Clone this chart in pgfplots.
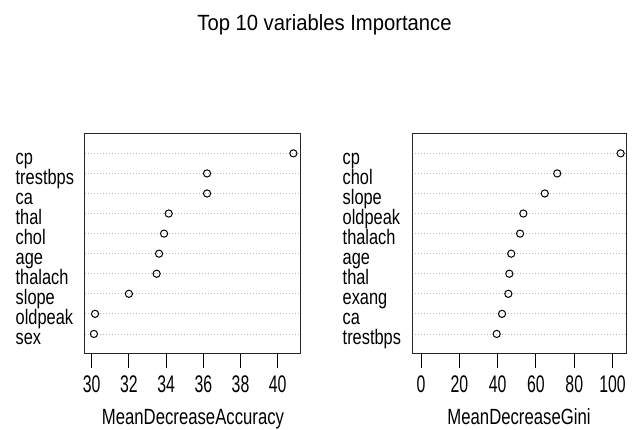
\documentclass[border=0pt]{standalone}
\usepackage{pgfplots}
\pgfplotsset{compat=1.18}
\usepackage{pgfplotstable}
\usepackage{fontspec}
\setmainfont{Liberation Sans}
\newfontfamily\tickf{Liberation Sans}[FakeStretch=0.66]
\newfontfamily\labf{Liberation Sans}[FakeStretch=0.76]
\newfontfamily\rowf{Liberation Sans}[FakeStretch=0.78]
\newfontfamily\titf{Liberation Sans}[FakeStretch=0.92]

\pgfplotstableread{
row val
1 30.12
2 30.18
3 32.00
4 33.49
5 33.62
6 33.89
7 34.14
8 36.20
9 36.20
10 40.84
}\accdata

\pgfplotstableread{
row val
1 39.5
2 42.3
3 45.6
4 46.1
5 47.1
6 51.7
7 53.4
8 64.6
9 71.1
10 104.2
}\ginidata

\begin{document}
\begin{tikzpicture}
\useasboundingbox (0pt,0pt) rectangle (633pt,430pt);
\pgfplotsset{
 vimp/.style={
  scale only axis, height=220.7pt, anchor=south west,
  ymin=0, ymax=11, ytick={1,...,10},
  ytick style={draw=none},
  ymajorgrids,
  grid style={gray!55, line width=0.8pt, dash pattern=on 0.8pt off 2.2pt},
  tick align=outside, major tick length=14pt, xtick pos=left,
  xtick style={black, line width=1pt},
  axis line style={line width=1pt, black!85},
  xticklabel style={font=\fontsize{24}{24}\tickf, inner sep=0pt, anchor=north, yshift=-8pt},
  yticklabel style={font=\fontsize{21}{21}\rowf, inner sep=0pt, anchor=base west, xshift=-55.5pt, yshift=-11pt},
  every axis x label/.style={at={(axis description cs:0.5,0)}, anchor=base, yshift=-71pt, font=\fontsize{22}{22}\labf},
  /pgf/number format/assume math mode=true,
  clip=false,
 }
}
\node[anchor=base, font=\fontsize{22}{22}\titf] at (324.5pt,399pt) {Top 10 variables Importance};

\begin{axis}[vimp, at={(85pt,76pt)}, width=216pt,
  xmin=29.64, xmax=41.25, xtick={30,32,...,40},
  yticklabels={sex,oldpeak,slope,thalach,age,chol,thal,ca,trestbps,cp},
  xlabel={MeanDecreaseAccuracy}]
\addplot[only marks, mark=o, mark size=3.6pt, mark options={line width=1pt, black}] table[x=val, y=row] {\accdata};
\end{axis}

\begin{axis}[vimp, at={(412pt,76pt)}, width=214pt,
  xmin=-4.7, xmax=107.0, xtick={0,20,...,100},
  yticklabels={trestbps,ca,exang,thal,age,thalach,oldpeak,slope,chol,cp},
  xlabel={MeanDecreaseGini}]
\addplot[only marks, mark=o, mark size=3.6pt, mark options={line width=1pt, black}] table[x=val, y=row] {\ginidata};
\end{axis}
\end{tikzpicture}
\end{document}
